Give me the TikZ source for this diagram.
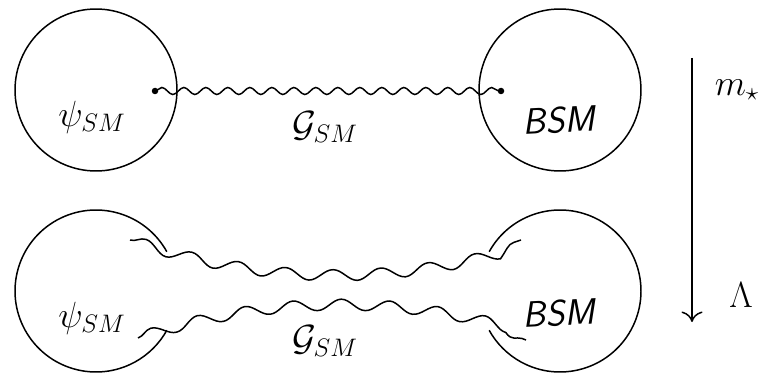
\documentclass[tikz,border=0pt]{standalone}
\usepackage{tikz}
\usetikzlibrary{positioning}
\usetikzlibrary{decorations.pathmorphing}
\usetikzlibrary{arrows.meta}

\begin{document}
\begin{tikzpicture}[x=0.02cm,y=-0.02cm,line width=0.85pt,
    blob/.style={circle,draw,minimum size=3.24cm,inner sep=0pt},
    gluon/.style={decorate,decoration={snake,segment length=0.44cm,amplitude=0.07cm}},
    flux/.style={decorate,decoration={snake,segment length=0.96cm,amplitude=0.11cm}},
    lbl/.style={font=\huge}]
  \useasboundingbox (0,0) rectangle (768,375);
  \node[blob] (smA) at (96,90) {};
  \node[blob] (bsmA) at (560,90) {};
  \coordinate (dotA) at (155,91);
  \coordinate (dotB) at (501,91);
  \draw[gluon] (dotA) -- (dotB);
  \fill (dotA) circle (0.065cm);
  \fill (dotB) circle (0.065cm);
  \node[lbl] (psiA) at (92,117) {$\psi_{SM}$};
  \node[lbl] (gA) at (325,127) {$\mathcal{G}_{SM}$};
  \node[lbl,rotate=3] (bA) at (560,120) {\textsf{\textsl{BSM}}};

  \coordinate (smB) at (96,291);
  \coordinate (bsmB) at (560,291);
  \draw (smB) ++(29:1.62cm) arc[start angle=29,end angle=331,radius=1.62cm];
  \draw (bsmB) ++(151:1.62cm) arc[start angle=151,end angle=-151,radius=1.62cm];
  \coordinate (fluxA) at (130,240);
  \coordinate (fluxB) at (521,240);
  \coordinate (fluxC) at (138,338);
  \coordinate (fluxD) at (526,340);
  \draw[flux] (fluxA) .. controls (260,282) and (390,282) .. (fluxB);
  \draw[flux] (fluxC) .. controls (265,298) and (400,298) .. (fluxD);
  \node[lbl] (psiB) at (92,318) {$\psi_{SM}$};
  \node[lbl] (gB) at (325,341) {$\mathcal{G}_{SM}$};
  \node[lbl,rotate=3] (bB) at (560,313) {\textsf{\textsl{BSM}}};

  \coordinate (scaleA) at (692,58);
  \coordinate (scaleB) at (692,322);
  \draw[-{To[length=6pt,width=12pt]}] (scaleA) -- (scaleB);
  \node[lbl] (mA) at (737,90) {$m_\star$};
  \node[lbl] (lA) at (741,295) {$\Lambda$};
\end{tikzpicture}
\end{document}
